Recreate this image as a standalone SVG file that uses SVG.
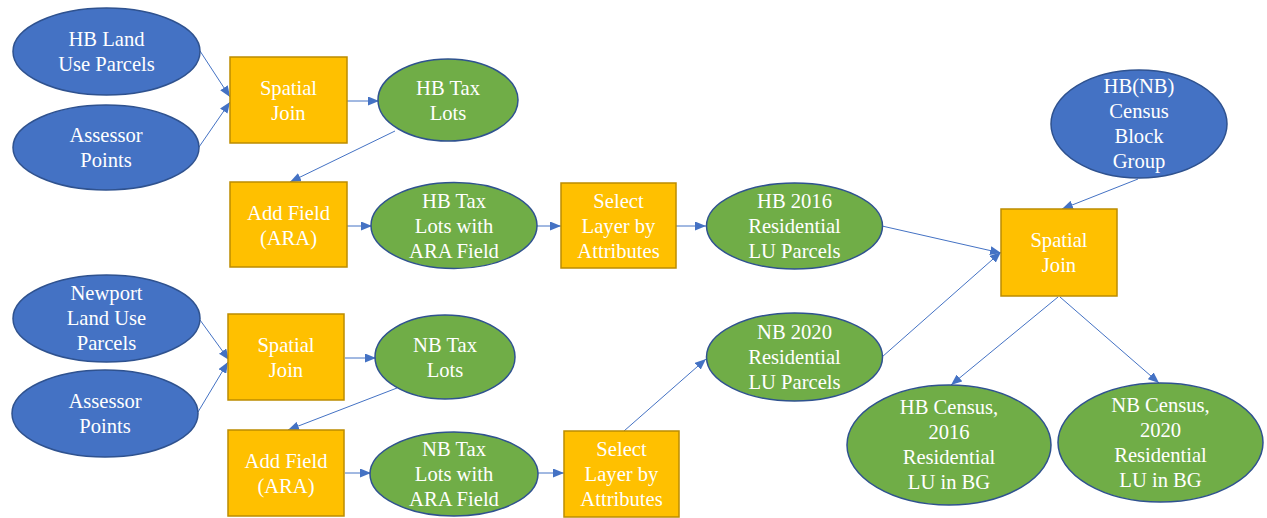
<svg xmlns="http://www.w3.org/2000/svg" width="1267" height="518" viewBox="0 0 1267 518">
  <style>
    .src { fill: #4472C4; stroke: #2F528F; stroke-width: 1.5; }
    .out { fill: #70AD47; stroke: #2F528F; stroke-width: 1.5; }
    .tool { fill: #FFC000; stroke: #BC8C00; stroke-width: 1.5; }
    .t { font-family: 'Liberation Serif', 'DejaVu Serif', serif; font-size: 20.6px; fill: #FFFFFF; text-anchor: middle; }
    .c { stroke: #4472C4; stroke-width: 1; fill: none; marker-end: url(#arrow); }
  </style>
  <defs>
    <marker id="arrow" markerUnits="userSpaceOnUse" markerWidth="11" markerHeight="9" refX="11" refY="4.5" orient="auto">
      <path d="M0,0 L11,4.5 L0,9 z" fill="#4472C4"/>
    </marker>
  </defs>

  <!-- connectors -->
  <g id="connectors">
    <line class="c" x1="200" y1="51" x2="230" y2="97"/>
    <line class="c" x1="199" y1="147" x2="230" y2="102"/>
    <line class="c" x1="347" y1="101" x2="379" y2="101"/>
    <line class="c" x1="395" y1="131" x2="290" y2="182"/>
    <line class="c" x1="347" y1="226" x2="372" y2="226"/>
    <line class="c" x1="537" y1="226" x2="561" y2="226"/>
    <line class="c" x1="676" y1="226" x2="706" y2="226"/>
    <line class="c" x1="882" y1="226" x2="1001" y2="253"/>
    <line class="c" x1="882" y1="357" x2="1001" y2="252"/>
    <line class="c" x1="1138" y1="179" x2="1062" y2="209"/>
    <line class="c" x1="1058" y1="297" x2="951" y2="385"/>
    <line class="c" x1="1060" y1="297" x2="1159" y2="383"/>
    <line class="c" x1="200" y1="320" x2="229" y2="360"/>
    <line class="c" x1="198" y1="412" x2="228" y2="362"/>
    <line class="c" x1="345" y1="358" x2="376" y2="358"/>
    <line class="c" x1="397" y1="388" x2="288" y2="430"/>
    <line class="c" x1="345" y1="473" x2="371" y2="473"/>
    <line class="c" x1="538" y1="473" x2="564" y2="473"/>
    <line class="c" x1="624" y1="431" x2="706" y2="359"/>
  </g>

  <g font-family="Liberation Serif, serif">
  <!-- HB branch -->
  <g id="hb-landuse">
    <ellipse class="src" cx="106.5" cy="51.5" rx="93.5" ry="43.5"/>
    <text class="t" x="106.5" y="46">HB Land</text>
    <text class="t" x="106.5" y="71">Use Parcels</text>
  </g>
  <g id="hb-assessor">
    <ellipse class="src" cx="106" cy="147.5" rx="93" ry="42.5"/>
    <text class="t" x="106" y="142">Assessor</text>
    <text class="t" x="106" y="167">Points</text>
  </g>
  <g id="hb-spatial-join">
    <rect class="tool" x="230" y="57" width="117" height="86"/>
    <text class="t" x="288.5" y="95">Spatial</text>
    <text class="t" x="288.5" y="120">Join</text>
  </g>
  <g id="hb-tax-lots">
    <ellipse class="out" cx="448" cy="100" rx="70" ry="41"/>
    <text class="t" x="448" y="95">HB Tax</text>
    <text class="t" x="448" y="120">Lots</text>
  </g>
  <g id="hb-add-field">
    <rect class="tool" x="230" y="182" width="117" height="85"/>
    <text class="t" x="288.5" y="220">Add Field</text>
    <text class="t" x="288.5" y="245">(ARA)</text>
  </g>
  <g id="hb-tax-lots-ara">
    <ellipse class="out" cx="454" cy="225.5" rx="83" ry="43"/>
    <text class="t" x="454" y="208">HB Tax</text>
    <text class="t" x="454" y="233">Lots with</text>
    <text class="t" x="454" y="258">ARA Field</text>
  </g>
  <g id="hb-select">
    <rect class="tool" x="561" y="183" width="115" height="85"/>
    <text class="t" x="618.5" y="208">Select</text>
    <text class="t" x="618.5" y="233">Layer by</text>
    <text class="t" x="618.5" y="258">Attributes</text>
  </g>
  <g id="hb-2016-residential">
    <ellipse class="out" cx="794.5" cy="226" rx="88" ry="43"/>
    <text class="t" x="794.5" y="208">HB 2016</text>
    <text class="t" x="794.5" y="233">Residential</text>
    <text class="t" x="794.5" y="258">LU Parcels</text>
  </g>

  <!-- NB branch -->
  <g id="nb-landuse">
    <ellipse class="src" cx="106.5" cy="318.5" rx="93.5" ry="43.5"/>
    <text class="t" x="106.5" y="300">Newport</text>
    <text class="t" x="106.5" y="325">Land Use</text>
    <text class="t" x="106.5" y="350">Parcels</text>
  </g>
  <g id="nb-assessor">
    <ellipse class="src" cx="105" cy="413.5" rx="93" ry="43.5"/>
    <text class="t" x="105" y="408">Assessor</text>
    <text class="t" x="105" y="433">Points</text>
  </g>
  <g id="nb-spatial-join">
    <rect class="tool" x="228" y="314" width="116" height="86"/>
    <text class="t" x="286" y="352">Spatial</text>
    <text class="t" x="286" y="377">Join</text>
  </g>
  <g id="nb-tax-lots">
    <ellipse class="out" cx="445" cy="357" rx="70" ry="42"/>
    <text class="t" x="445" y="352">NB Tax</text>
    <text class="t" x="445" y="377">Lots</text>
  </g>
  <g id="nb-add-field">
    <rect class="tool" x="228" y="430" width="116" height="86"/>
    <text class="t" x="286" y="468">Add Field</text>
    <text class="t" x="286" y="493">(ARA)</text>
  </g>
  <g id="nb-tax-lots-ara">
    <ellipse class="out" cx="454" cy="474" rx="84" ry="42"/>
    <text class="t" x="454" y="456">NB Tax</text>
    <text class="t" x="454" y="481">Lots with</text>
    <text class="t" x="454" y="506">ARA Field</text>
  </g>
  <g id="nb-select">
    <rect class="tool" x="564" y="431" width="115" height="86"/>
    <text class="t" x="621.5" y="456">Select</text>
    <text class="t" x="621.5" y="481">Layer by</text>
    <text class="t" x="621.5" y="506">Attributes</text>
  </g>
  <g id="nb-2020-residential">
    <ellipse class="out" cx="794.5" cy="357" rx="88" ry="44"/>
    <text class="t" x="794.5" y="339">NB 2020</text>
    <text class="t" x="794.5" y="364">Residential</text>
    <text class="t" x="794.5" y="389">LU Parcels</text>
  </g>

  <!-- census join -->
  <g id="census-block-group">
    <ellipse class="src" cx="1139" cy="124" rx="88" ry="54"/>
    <text class="t" x="1139" y="93">HB(NB)</text>
    <text class="t" x="1139" y="118">Census</text>
    <text class="t" x="1139" y="143">Block</text>
    <text class="t" x="1139" y="168">Group</text>
  </g>
  <g id="census-spatial-join">
    <rect class="tool" x="1001" y="209" width="116" height="87"/>
    <text class="t" x="1059" y="247">Spatial</text>
    <text class="t" x="1059" y="272">Join</text>
  </g>
  <g id="hb-census-2016">
    <ellipse class="out" cx="949" cy="445" rx="102" ry="60"/>
    <text class="t" x="949" y="414">HB Census,</text>
    <text class="t" x="949" y="439">2016</text>
    <text class="t" x="949" y="464">Residential</text>
    <text class="t" x="949" y="489">LU in BG</text>
  </g>
  <g id="nb-census-2020">
    <ellipse class="out" cx="1160.5" cy="442.5" rx="102.5" ry="59.5"/>
    <text class="t" x="1160.5" y="412">NB Census,</text>
    <text class="t" x="1160.5" y="437">2020</text>
    <text class="t" x="1160.5" y="462">Residential</text>
    <text class="t" x="1160.5" y="487">LU in BG</text>
  </g>
  </g>
</svg>
